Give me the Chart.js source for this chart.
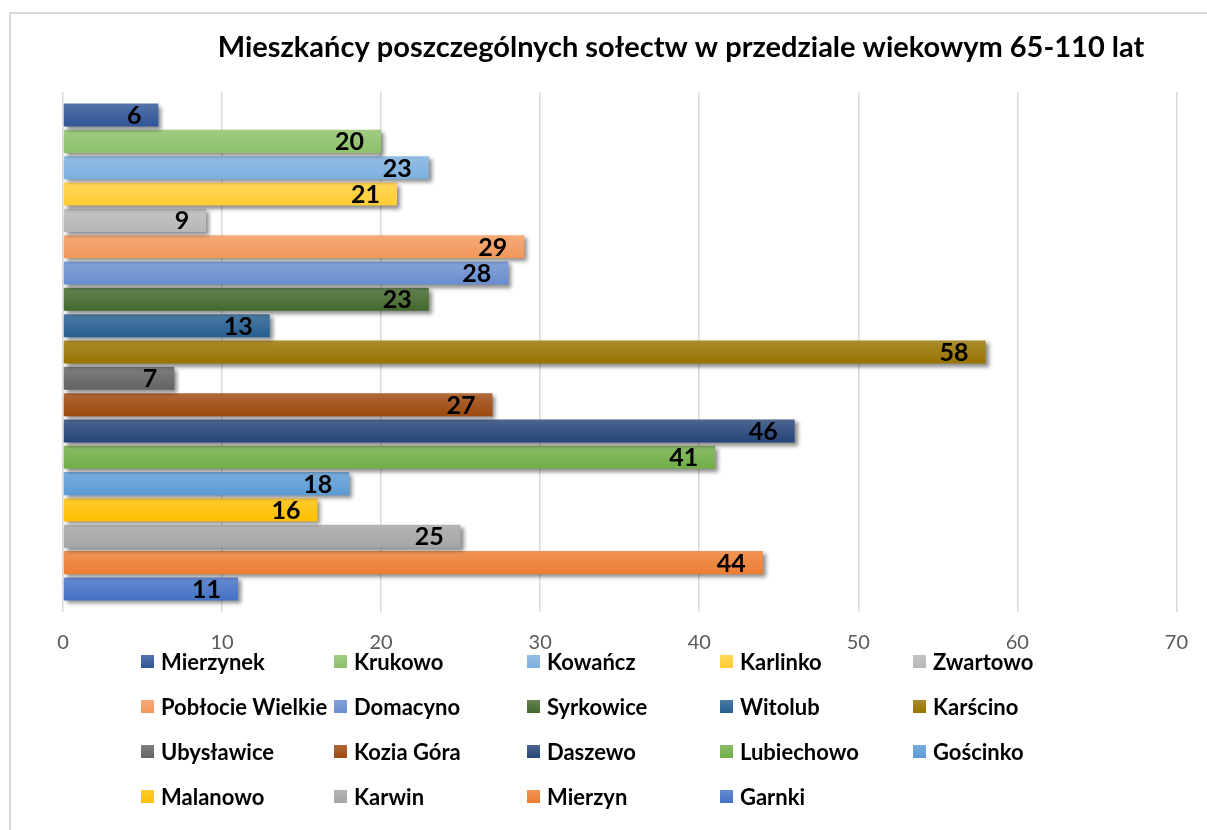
<!DOCTYPE html>
<html>
<head>
<meta charset="utf-8">
<script src="https://cdn.jsdelivr.net/npm/chart.js@4.4.1/dist/chart.umd.min.js"></script>
<style>
html,body{margin:0;padding:0;background:#fff;}
#wrap{position:relative;width:1207px;height:830px;overflow:hidden;background:#fff;}
#frame{position:absolute;left:9px;top:12px;width:1300px;height:900px;border:2px solid #d9d9d9;box-sizing:border-box;}
#c{position:absolute;left:0;top:0;}
#legend{position:absolute;left:141px;top:639px;display:grid;grid-template-columns:repeat(5,193px);grid-auto-rows:45px;font-family:Lato,sans-serif;font-weight:bold;font-size:22px;color:#000;}
.item{display:flex;align-items:center;white-space:nowrap;}
.box{width:13px;height:13px;margin-right:7px;flex:none;}
</style>
</head>
<body>
<div id="wrap">
  <div id="frame"></div>
  <canvas id="c" width="1207" height="830"></canvas>
  <div id="legend"></div>
</div>
<script>
const titleText = 'Mieszkańcy poszczególnych sołectw w przedziale wiekowym 65-110 lat';
const villages = ['Mierzynek','Krukowo','Kowańcz','Karlinko','Zwartowo','Pobłocie Wielkie','Domacyno','Syrkowice','Witolub','Karścino','Ubysławice','Kozia Góra','Daszewo','Lubiechowo','Gościnko','Malanowo','Karwin','Mierzyn','Garnki'];
const residents = [6,20,23,21,9,29,28,23,13,58,7,27,46,41,18,16,25,44,11];
const colors = ['#2F5597','#8CC168','#7CAFDD','#FFCD33','#B7B7B7','#F1975A','#698ED0','#43682B','#255E91','#997300','#636363','#9E480E','#264478','#70AD47','#5B9BD5','#FFC000','#A5A5A5','#ED7D31','#4472C4'];
const xTicks = [0,10,20,30,40,50,60,70];

function lighten(hex, f){
  const n = parseInt(hex.slice(1),16);
  let r=(n>>16)&255,g=(n>>8)&255,b=n&255;
  r=Math.round(r+(255-r)*f); g=Math.round(g+(255-g)*f); b=Math.round(b+(255-b)*f);
  return 'rgb('+r+','+g+','+b+')';
}

const fxPlugin = {
  id:'fx',
  beforeDatasetDraw(chart, args){
    const ctx = chart.ctx;
    const i = args.index;
    args.meta.data.forEach(el=>{
      const top = el.y - el.height/2, bot = el.y + el.height/2;
      const g = ctx.createLinearGradient(0, top, 0, bot);
      g.addColorStop(0, lighten(colors[i], 0.18));
      g.addColorStop(1, colors[i]);
      el.options = Object.assign({}, el.options, {backgroundColor: g});
    });
    ctx.save();
    ctx.shadowColor = 'rgba(0,0,0,0.45)';
    ctx.shadowBlur = 4;
    ctx.shadowOffsetX = 3;
    ctx.shadowOffsetY = 3;
  },
  afterDatasetDraw(chart){ chart.ctx.restore(); },
  afterDatasetsDraw(chart){
    const ctx = chart.ctx;
    ctx.save();
    ctx.font = 'bold 25px Lato, sans-serif';
    ctx.fillStyle = '#000';
    ctx.textAlign = 'right';
    ctx.textBaseline = 'middle';
    chart.data.datasets.forEach((ds, i)=>{
      const meta = chart.getDatasetMeta(i);
      meta.data.forEach((el, j)=>{
        ctx.fillText(String(ds.data[j]), el.x - 17, el.y + 1);
      });
    });
    ctx.restore();
  },
  afterDraw(chart){
    const ctx = chart.ctx;
    ctx.save();
    ctx.font = 'bold 29px Lato, sans-serif';
    ctx.fillStyle = '#000';
    ctx.textAlign = 'center';
    ctx.textBaseline = 'middle';
    ctx.fillText(titleText, 681, 48);
    ctx.restore();
  }
};

new Chart(document.getElementById('c'), {
  type:'bar',
  data:{
    labels:[''],
    datasets: villages.map((v,i)=>({label:v, data:[residents[i]], backgroundColor:colors[i], borderWidth:0}))
  },
  options:{
    indexAxis:'y',
    responsive:false,
    animation:false,
    devicePixelRatio:1,
    categoryPercentage:0.962,
    barPercentage:0.875,
    layout:{padding:{top:92,left:63,right:30,bottom:156}},
    plugins:{legend:{display:false}, title:{display:false}, tooltip:{enabled:false}},
    scales:{
      y:{display:false},
      x:{
        min:0, max:70,
        afterBuildTicks(scale){ scale.ticks = xTicks.map(v=>({value:v})); },
        ticks:{color:'#595959', font:{family:'Lato', size:20}, padding:19},
        grid:{color:'#d9d9d9', lineWidth:1.5, drawTicks:false},
        border:{display:false}
      }
    }
  },
  plugins:[fxPlugin]
});

const leg = document.getElementById('legend');
villages.forEach((v,i)=>{
  const it = document.createElement('div'); it.className='item';
  const b = document.createElement('span'); b.className='box';
  b.style.background = 'linear-gradient(' + lighten(colors[i],0.18) + ',' + colors[i] + ')';
  const t = document.createElement('span'); t.textContent = v;
  it.appendChild(b); it.appendChild(t); leg.appendChild(it);
});
</script>
</body>
</html>
